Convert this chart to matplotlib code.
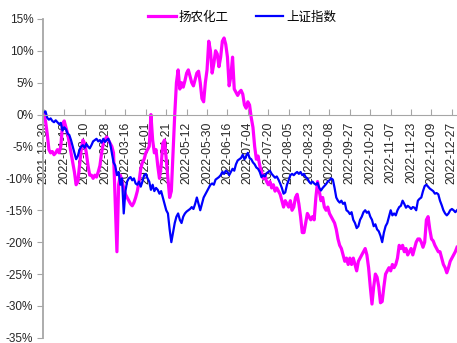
import numpy as np
import pandas as pd
import matplotlib
matplotlib.use('Agg')
import matplotlib.pyplot as plt
from matplotlib.ticker import FuncFormatter

plt.rcParams['font.family'] = ['Liberation Sans', 'Noto Sans CJK SC']

# A-share trading calendar, 2021-12-30 .. 2022-12-30
holidays = ['2022-01-03', '2022-01-31', '2022-02-01', '2022-02-02', '2022-02-03',
            '2022-02-04', '2022-04-04', '2022-04-05', '2022-05-02', '2022-05-03',
            '2022-05-04', '2022-06-03', '2022-09-12', '2022-10-03', '2022-10-04',
            '2022-10-05', '2022-10-06', '2022-10-07']
dates = pd.bdate_range('2021-12-30', '2022-12-30', freq='C', holidays=holidays)

names = ['扬农化工', '上证指数']

# cumulative return, %
yangnong = [
    0, -1, -3, -5.5, -6, -5.8, -6.3, -6, -5.5, -6,
    -5, -1.5, -1, -2, -3, -4.5, -6, -7.5, -9, -11,
    -10.5, -8, -5.5, -4, -4.5, -6, -8, -9.5, -9.5, -10,
    -9.5, -9.8, -9, -8, -6, -4.5, -4, -3.5, -4, -4.5,
    -5, -6, -14, -21.5, -11, -9.5, -10.5, -11.5, -12.5, -13,
    -13.5, -14, -14.3, -13.8, -13, -12, -10.5, -8.5, -7.5, -7,
    -6, -5.5, -5, 0, -4, -6, -5.5, -8, -10, -8,
    -4.5, -4, -7, -10, -13, -12, -6, 0, 5, 7,
    4, 5, 4.3, 5.3, 6.5, 7, 6, 5, 4.5, 5.5,
    6.5, 6.8, 5, 2.5, 2, 5, 7, 11.5, 10, 6.5,
    8, 10, 9.5, 7.5, 9, 11.5, 12, 11, 9, 4.5,
    6, 9, 4, 3.5, 3, 3.5, 3.8, 3.2, 1.5, 1,
    2, 1.5, -0.5, -2, -5, -7, -6.5, -8, -9, -10,
    -9.5, -10.5, -11, -10.5, -11.5, -11, -12, -11.5, -12, -12.5,
    -13.5, -14.5, -13.5, -14, -14.5, -13.5, -15, -14.5, -13, -12.5,
    -14, -16, -18.5, -18.5, -17, -15.5, -16, -16.5, -16, -16.5,
    -13, -10.5, -12, -13.5, -13, -14.5, -15, -14.5, -15.5, -16,
    -16.5, -17, -18, -19.5, -20.5, -21, -22, -23, -22.5, -23.5,
    -22.5, -23.5, -22.5, -23.5, -24.5, -23, -22.5, -22, -21.5, -21,
    -22, -24, -27, -29.7, -27, -25, -25.5, -27, -29.5, -29.3,
    -27, -25, -24.5, -24, -24.5, -23.5, -24, -23.5, -22.5, -20.5,
    -21, -20.5, -21.5, -21, -22, -21.5, -21, -22, -21, -20,
    -19.5, -19.5, -20, -20.8, -20, -16.5, -16, -18, -19.5, -19.8,
    -20.5, -21, -21.5, -21.5, -22.5, -23.5, -24, -24.8, -24, -23,
    -22.5, -22, -21.5, -20.8]

szzs = [
    0.3, 0.5, -0.5, -0.8, -0.6, -1, -1.2, -0.9, -1.2, -1.5,
    -1.3, -2.5, -2, -2.3, -3, -3.2, -4, -5, -6, -7,
    -6.5, -5.5, -5, -4.8, -5.2, -4.6, -5, -5.3, -4.8, -4.2,
    -4, -3.8, -4.2, -4, -4.4, -3.8, -4.3, -4, -3.8, -4.5,
    -6, -7.5, -8, -9.5, -9, -11, -10, -15.5, -12, -10.5,
    -10, -9.8, -10.3, -10, -10.8, -11, -10.5, -11.3, -10.5, -9.5,
    -9.3, -10, -10.5, -11.8, -11, -12, -11.5, -11.8, -12.4, -12,
    -13, -14, -15, -15.5, -18, -20, -18.5, -17, -16, -15.5,
    -16.5, -17, -16, -15.5, -15.2, -15, -14.8, -14.5, -14.8, -14,
    -13, -14, -15, -14, -13, -12.5, -12, -11.5, -11, -10.8,
    -11, -10.2, -10, -9.8, -9.5, -9, -9.3, -8.8, -9, -9.5,
    -9, -8.5, -8.8, -7.8, -7.2, -7, -6.8, -6.3, -7, -6.5,
    -6, -6.8, -7, -7.5, -7.8, -8.3, -8.5, -9, -9.8, -9.5,
    -9.7, -9.2, -9, -8.8, -9.3, -9.6, -9.9, -9.7, -10.2, -10.8,
    -11.5, -12.4, -12.2, -11, -10.3, -9.5, -9.3, -9.5, -9.2, -9,
    -9.3, -9, -9.5, -9.3, -9.8, -10, -10.5, -10.8, -10.5, -10.8,
    -11, -10.7, -11.5, -11.9, -11.5, -11.2, -10.9, -10.5, -10.3, -10,
    -10.2, -11.5, -13, -13.5, -13.8, -13.5, -14, -13.8, -15, -15.2,
    -15.6, -15.3, -16.5, -17, -17.8, -17.5, -16.5, -16, -15.3, -15,
    -15.4, -15.2, -16, -16.5, -17.5, -17.2, -18, -18.3, -19, -20,
    -18.5, -17.5, -17, -16, -15, -15.8, -15.5, -15.8, -15, -14.5,
    -14.3, -13.5, -14, -14.6, -14.3, -14.5, -14.8, -14.5, -14.6, -15,
    -13.5, -13.2, -13, -12, -11.2, -11, -11.3, -11.6, -11.8, -12,
    -12.4, -12.3, -12.5, -13.5, -14.2, -15, -15.5, -15.8, -15.5, -15,
    -14.8, -15, -15.3, -15]

x = np.arange(len(dates))

fig = plt.figure(figsize=(4.57, 3.43), dpi=100)
ax = fig.add_axes([0.094, 0.015, 0.906, 0.93])
ax.set_axisbelow(True)

ax.plot(x, np.array(yangnong) / 100, color='#FF00FF', lw=2.3, label=names[0])
ax.plot(x, np.array(szzs) / 100, color='#0000FF', lw=1.6, label=names[1])

ax.set_xlim(-0.5, len(dates) - 1)
ax.set_ylim(-0.35, 0.15)
ax.set_yticks(np.arange(-0.35, 0.151, 0.05))
ax.yaxis.set_major_formatter(FuncFormatter(lambda v, p: f'{int(round(v * 100))}%'))

ax.set_xticks(x[::12])
ax.set_xticklabels(dates[::12].strftime('%Y-%m-%d'))

for s in ['top', 'right']:
    ax.spines[s].set_visible(False)
ax.spines['bottom'].set_position(('data', 0))
ax.spines['bottom'].set_color('#a6a6a6')
ax.spines['left'].set_color('#a6a6a6')
ax.spines['left'].set_linewidth(1.3)

ax.tick_params(axis='x', direction='in', length=4, color='#a6a6a6',
               labelsize=8.7, labelcolor='#262626', pad=5, labelrotation=90)
ax.tick_params(axis='y', direction='out', length=4, color='#a6a6a6',
               labelsize=8.5, labelcolor='#262626', pad=3)

fig.legend(loc='upper center', bbox_to_anchor=(0.53, 1.0), ncol=2, frameon=False,
           fontsize=9, handlelength=2.2, columnspacing=2.2, handletextpad=0.2)

fig.savefig('out.png', dpi=100)
